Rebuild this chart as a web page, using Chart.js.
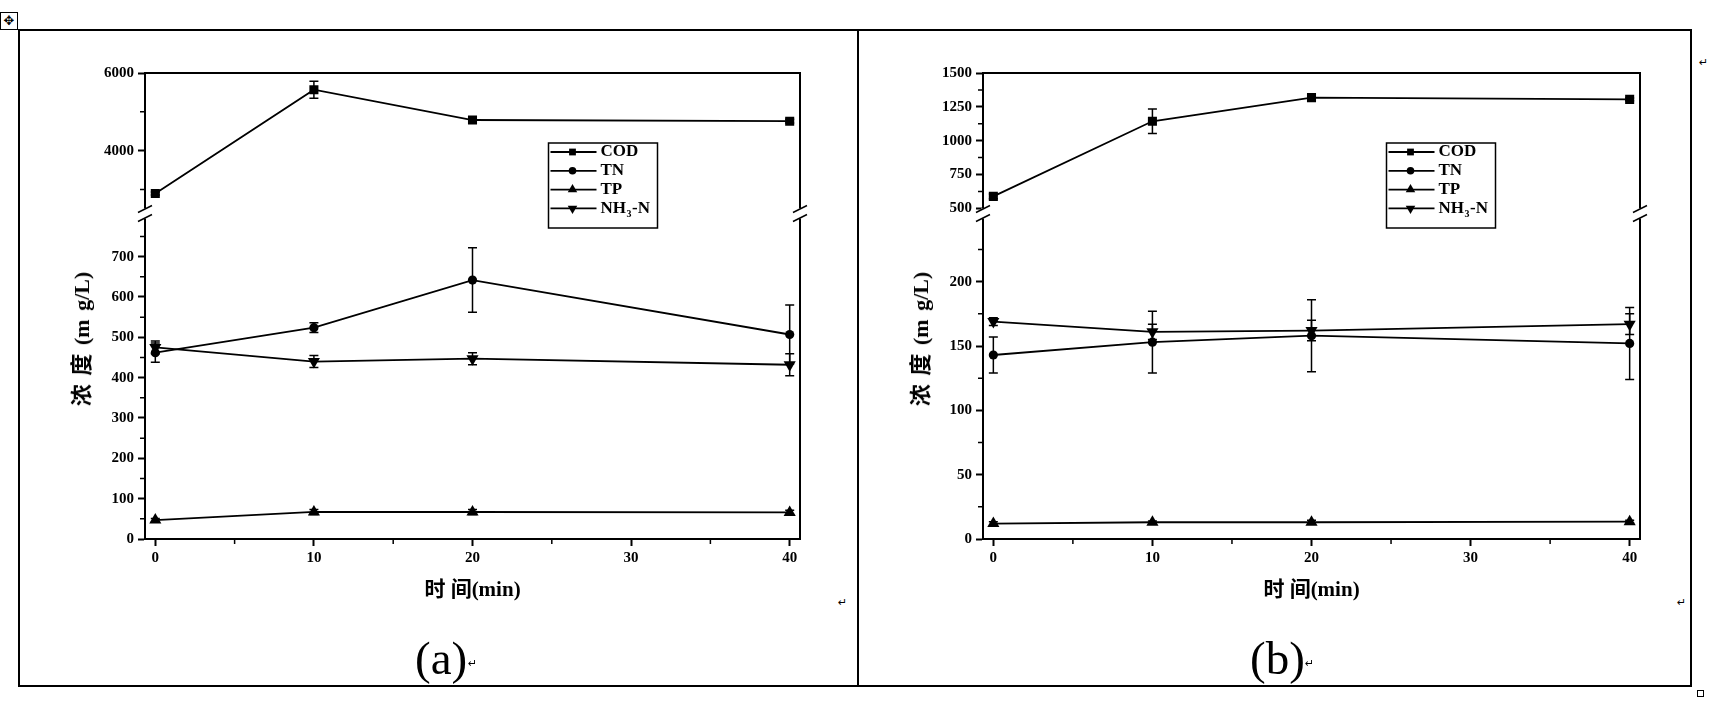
<!DOCTYPE html>
<html><head><meta charset="utf-8">
<script src="https://cdn.jsdelivr.net/npm/chart.js@4.4.1/dist/chart.umd.min.js"></script>
<style>
html,body{margin:0;padding:0;background:#fff;}
body{width:1722px;height:711px;position:relative;overflow:hidden;}
.ln{position:absolute;background:#000;}
canvas{position:absolute;top:0;}
.yt{position:absolute;white-space:nowrap;font:bold 22px 'Liberation Serif','Noto Sans CJK SC',serif;transform:translate(-50%,-50%) rotate(-90deg);color:#000;word-spacing:3px;}
.pl{position:absolute;font:47px 'Liberation Serif',serif;line-height:1;color:#000;white-space:nowrap;}
.mk{position:absolute;font:11px 'DejaVu Sans',sans-serif;line-height:1;color:#000;}
.hd{position:absolute;left:0;top:12px;width:16px;height:16px;border:1px solid #000;font:13px 'DejaVu Sans',sans-serif;line-height:16px;text-align:center;}
.sq{position:absolute;left:1697px;top:690px;width:5px;height:5px;border:1px solid #000;}
</style></head>
<body>
<div class="ln" style="left:18px;top:29px;width:1674px;height:2px"></div>
<div class="ln" style="left:18px;top:29px;width:2px;height:658px"></div>
<div class="ln" style="left:18px;top:685px;width:1674px;height:2px"></div>
<div class="ln" style="left:1690px;top:29px;width:2px;height:658px"></div>
<div class="ln" style="left:857px;top:29px;width:2px;height:658px"></div>
<div class="hd">✥</div>
<div class="sq"></div>
<div class="mk" style="left:1699px;top:57px">↵</div>
<div class="mk" style="left:838px;top:597px">↵</div>
<div class="mk" style="left:1677px;top:597px">↵</div>
<canvas id="ca" width="860" height="711" style="left:0px"></canvas>
<canvas id="cb" width="860" height="711" style="left:838px"></canvas>
<div class="yt" style="left:79px;top:339px">浓 度 (m g/L)</div>
<div class="yt" style="left:918px;top:339px">浓 度 (m g/L)</div>
<div class="pl" style="left:415px;top:635px">(a)</div>
<div class="mk" style="left:468px;top:658px">↵</div>
<div class="pl" style="left:1250px;top:635px">(b)</div>
<div class="mk" style="left:1305px;top:658px">↵</div>
<script>
// ---------- data ----------
const times = [0, 10, 20, 40];
const seriesNames = ['COD', 'TN', 'TP', 'NH3-N'];
const xTitle = '时 间(min)';
const xTicks = [0, 10, 20, 30, 40];
const xMinor = [5, 15, 25, 35];

// panel (a)
const codA = [2900, 5570, 4790, 4760];
const codAErr = [40, 220, 40, 50];
const tnA = [462, 524, 642, 507];
const tnAErr = [24, 12, 80, 73];
const tpA = [47, 67, 67, 66];
const tpAErr = [4, 6, 6, 5];
const nh3A = [475, 440, 447, 432];
const nh3AErr = [16, 15, 15, 27];
const yTopTicksA = [4000, 6000];
const yTopMinorA = [3000, 5000];
const yLowTicksA = [0, 100, 200, 300, 400, 500, 600, 700];
const yLowMinorA = [50, 150, 250, 350, 450, 550, 650, 750];

// panel (b)
const codB = [588, 1143, 1318, 1305];
const codBErr = [18, 90, 10, 10];
const tnB = [143, 153, 158, 152];
const tnBErr = [14, 24, 28, 28];
const tpB = [12, 13, 13, 13.5];
const tpBErr = [1.5, 1, 1.5, 1];
const nh3B = [169, 161, 162, 167];
const nh3BErr = [3, 6, 8, 8];
const yTopTicksB = [500, 750, 1000, 1250, 1500];
const yTopMinorB = [625, 875, 1125, 1375];
const yLowTicksB = [0, 50, 100, 150, 200];
const yLowMinorB = [25, 75, 125, 175, 225];

// ---------- drawing ----------
const SERIF = "'Liberation Serif', 'Noto Sans CJK SC', serif";

function drawMarker(ctx, style, x, y, r) {
  ctx.beginPath();
  if (style === 'rect') { const s = r * Math.SQRT1_2; ctx.rect(x - s, y - s, 2 * s, 2 * s); }
  else if (style === 'circle') ctx.arc(x, y, r, 0, Math.PI * 2);
  else if (style === 'up') { ctx.moveTo(x, y - r); ctx.lineTo(x + r * 0.866, y + r / 2); ctx.lineTo(x - r * 0.866, y + r / 2); ctx.closePath(); }
  else { ctx.moveTo(x, y + r); ctx.lineTo(x + r * 0.866, y - r / 2); ctx.lineTo(x - r * 0.866, y - r / 2); ctx.closePath(); }
  ctx.fill();
}

function makePlugins(P) {
  const errorBars = {
    id: 'errorBars',
    afterDatasetsDraw(chart) {
      const ctx = chart.ctx;
      ctx.save();
      ctx.strokeStyle = '#000';
      ctx.lineWidth = 1.5;
      chart.data.datasets.forEach((ds) => {
        const ys = chart.scales[ds.yAxisID];
        const xs = chart.scales.x;
        ds.data.forEach((pt, i) => {
          const e = ds.errors[i];
          const px = xs.getPixelForValue(pt.x);
          const y1 = ys.getPixelForValue(pt.y + e);
          const y2 = ys.getPixelForValue(pt.y - e);
          ctx.beginPath();
          ctx.moveTo(px, y1); ctx.lineTo(px, y2);
          ctx.moveTo(px - 4.5, y1); ctx.lineTo(px + 4.5, y1);
          ctx.moveTo(px - 4.5, y2); ctx.lineTo(px + 4.5, y2);
          ctx.stroke();
        });
      });
      ctx.restore();
    }
  };
  const frame = {
    id: 'frameBreak',
    afterDraw(chart) {
      const ctx = chart.ctx, ca = chart.chartArea;
      const yb = chart.scales.yU.bottom;
      ctx.save();
      ctx.strokeStyle = '#000';
      ctx.lineWidth = 2;
      ctx.beginPath();
      ctx.moveTo(ca.left - 1, ca.top); ctx.lineTo(ca.right + 1, ca.top);
      ctx.moveTo(ca.right, ca.top); ctx.lineTo(ca.right, yb - 5);
      ctx.moveTo(ca.right, yb + 5); ctx.lineTo(ca.right, ca.bottom + 1);
      ctx.stroke();
      ctx.fillStyle = '#fff';
      ctx.fillRect(ca.left - 2, yb - 5, 4, 10);
      ctx.lineWidth = 1.5;
      for (const x of [ca.left, ca.right]) {
        for (const d of [-4.5, 4.5]) {
          ctx.beginPath();
          ctx.moveTo(x - 7, yb + d + 3.5);
          ctx.lineTo(x + 7, yb + d - 3.5);
          ctx.stroke();
        }
      }
      // minor ticks
      ctx.lineWidth = 1.5;
      ctx.beginPath();
      for (const v of xMinor) {
        const px = chart.scales.x.getPixelForValue(v);
        ctx.moveTo(px, ca.bottom + 1); ctx.lineTo(px, ca.bottom + 5);
      }
      for (const v of P.uMinor) {
        const py = chart.scales.yU.getPixelForValue(v);
        ctx.moveTo(ca.left - 1, py); ctx.lineTo(ca.left - 5, py);
      }
      for (const v of P.lMinor) {
        const py = chart.scales.yL.getPixelForValue(v);
        ctx.moveTo(ca.left - 1, py); ctx.lineTo(ca.left - 5, py);
      }
      ctx.stroke();
      ctx.restore();
    }
  };
  const legendBox = {
    id: 'legendBox',
    afterDraw(chart) {
      const ctx = chart.ctx, ca = chart.chartArea;
      const bx = ca.left + 403.5, by = ca.top + 70, bw = 109, bh = 85;
      ctx.save();
      ctx.strokeStyle = '#000';
      ctx.fillStyle = '#000';
      ctx.lineWidth = 1.5;
      ctx.strokeRect(bx, by, bw, bh);
      const styles = ['rect', 'circle', 'up', 'down'];
      const radii = [4.8, 3.8, 5.5, 5.5];
      chart.data.datasets.forEach((ds, i) => {
        const ry = by + 9 + i * 18.8;
        ctx.lineWidth = 1.8;
        ctx.beginPath();
        ctx.moveTo(bx + 2, ry); ctx.lineTo(bx + 48, ry);
        ctx.stroke();
        drawMarker(ctx, styles[i], bx + 24, ry, radii[i]);
        ctx.textBaseline = 'middle';
        ctx.textAlign = 'left';
        ctx.font = 'bold 17px ' + SERIF;
        const tx = bx + 52;
        const name = seriesNames[i];
        if (name === 'NH3-N') {
          ctx.fillText('NH', tx, ry);
          const w1 = ctx.measureText('NH').width;
          ctx.font = 'bold 10px ' + SERIF;
          ctx.fillText('3', tx + w1 + 0.5, ry + 6);
          const w2 = ctx.measureText('3').width;
          ctx.font = 'bold 17px ' + SERIF;
          ctx.fillText('-N', tx + w1 + w2 + 1, ry);
        } else {
          ctx.fillText(name, tx, ry);
        }
      });
      ctx.restore();
    }
  };
  return [errorBars, frame, legendBox];
}

function build(canvasId, P) {
  const mk = (arr) => times.map((t, i) => ({ x: t, y: arr[i] }));
  const common = { borderColor: '#000', backgroundColor: '#000', pointBackgroundColor: '#000', pointBorderColor: '#000', pointBorderWidth: 0, borderWidth: 1.8, tension: 0, fill: false };
  const datasets = [
    Object.assign({ label: seriesNames[0], data: mk(P.cod), errors: P.codErr, yAxisID: 'yU', pointStyle: 'rect', pointRadius: 6.4 }, common),
    Object.assign({ label: seriesNames[1], data: mk(P.tn), errors: P.tnErr, yAxisID: 'yL', pointStyle: 'circle', pointRadius: 4.6 }, common),
    Object.assign({ label: seriesNames[2], data: mk(P.tp), errors: P.tpErr, yAxisID: 'yL', pointStyle: 'triangle', pointRadius: 7 }, common),
    Object.assign({ label: seriesNames[3], data: mk(P.nh3), errors: P.nh3Err, yAxisID: 'yL', pointStyle: 'triangle', pointRotation: 180, pointRadius: 7 }, common)
  ];
  const tickFont = { family: SERIF, size: 15, weight: 'bold' };
  const gridOpt = { display: true, drawOnChartArea: false, drawTicks: true, tickLength: 7, tickWidth: 2, tickColor: '#000', color: '#000' };
  const borderOpt = { display: true, color: '#000', width: 2 };
  const setTicks = (vals) => (s) => { s.ticks = vals.map(v => ({ value: v })); };
  new Chart(document.getElementById(canvasId), {
    type: 'line',
    data: { datasets },
    options: {
      responsive: false,
      animation: false,
      devicePixelRatio: 1,
      layout: { padding: { left: 85, top: 73, right: P.padRight, bottom: 102 } },
      plugins: { legend: { display: false }, tooltip: { enabled: false } },
      scales: {
        x: {
          type: 'linear', position: 'bottom', min: -0.65, max: 40.65,
          afterBuildTicks: setTicks(xTicks),
          afterFit: (s) => { s.height = 70; },
          grid: gridOpt, border: borderOpt,
          ticks: { font: tickFont, color: '#000', padding: 3, maxRotation: 0, autoSkip: false, callback: (v) => String(v) },
          title: { display: true, text: xTitle, color: '#000', font: { family: SERIF, size: 21, weight: 'bold' }, padding: { top: 0, bottom: 6 } }
        },
        yL: {
          type: 'linear', position: 'left', stack: 'y', stackWeight: P.wL, min: 0, max: P.lMax,
          afterBuildTicks: setTicks(P.lTicks),
          afterFit: (s) => { s.width = 60; },
          grid: gridOpt, border: borderOpt,
          ticks: { font: tickFont, color: '#000', padding: 4, autoSkip: false, callback: (v) => String(v) }
        },
        yU: {
          type: 'linear', position: 'left', stack: 'y', stackWeight: P.wU, min: P.uMin, max: P.uMax,
          afterBuildTicks: setTicks(P.uTicks),
          afterFit: (s) => { s.width = 60; },
          grid: gridOpt, border: borderOpt,
          ticks: { font: tickFont, color: '#000', padding: 4, autoSkip: false, callback: (v) => String(v) }
        }
      }
    },
    plugins: makePlugins(P)
  });
}

build('ca', {
  cod: codA, codErr: codAErr, tn: tnA, tnErr: tnAErr, tp: tpA, tpErr: tpAErr, nh3: nh3A, nh3Err: nh3AErr,
  uMin: 2384, uMax: 6000, lMax: 807, wU: 140.5, wL: 325.5,
  uTicks: yTopTicksA, uMinor: yTopMinorA, lTicks: yLowTicksA, lMinor: yLowMinorA, padRight: 60
});
build('cb', {
  cod: codB, codErr: codBErr, tn: tnB, tnErr: tnBErr, tp: tpB, tpErr: tpBErr, nh3: nh3B, nh3Err: nh3BErr,
  uMin: 461.5, uMax: 1500, lMax: 253, wU: 140.5, wL: 325.5,
  uTicks: yTopTicksB, uMinor: yTopMinorB, lTicks: yLowTicksB, lMinor: yLowMinorB, padRight: 58
});
</script>
</body></html>
